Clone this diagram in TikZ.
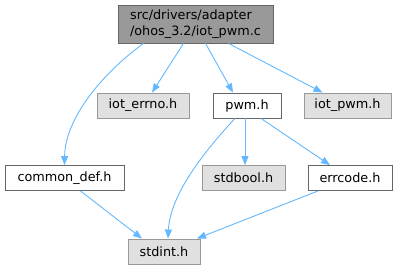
\documentclass[tikz,border=0pt]{standalone}
\usepackage{fontspec}
\setmainfont{DejaVu Sans}
\usetikzlibrary{arrows.meta}
\definecolor{edgeblue}{HTML}{63B8FF}
\definecolor{rootfill}{HTML}{999999}
\definecolor{extfill}{HTML}{E0E0E0}
\begin{document}
\begin{tikzpicture}[x=1pt,y=-1pt,
  file/.style={draw=black!60,fill=white,line width=0.9pt,inner sep=0pt,
    minimum height=25pt,font=\fontsize{12.8}{15.5}\selectfont},
  sysfile/.style={file,draw=black!40,fill=extfill},
  rootfile/.style={file,fill=rootfill,minimum height=38pt,align=left},
  dep/.style={edgeblue,line width=0.9pt,-{Triangle[length=9pt,width=7pt]}}]
  \useasboundingbox (0,0) rectangle (401,271);
  % Files
  \node[rootfile,minimum width=155pt] (root) at (195.5,24) {src/drivers/adapter\\/ohos\_3.2/iot\_pwm.c};
  \node[sysfile,minimum width=92pt] (errno) at (143,105.5) {iot\_errno.h};
  \node[file,minimum width=68pt] (pwm) at (247,105.5) {pwm.h};
  \node[sysfile,minimum width=87pt] (iotpwm) at (347.5,105.5) {iot\_pwm.h};
  \node[file,minimum width=119pt] (common) at (64.5,178) {common\_def.h};
  \node[sysfile,minimum width=83pt] (stdbool) at (243.5,178) {stdbool.h};
  \node[file,minimum width=84pt] (errcode) at (350,178) {errcode.h};
  \node[sysfile,minimum width=72pt] (stdint) at (164,251.5) {stdint.h};
  % Includes of iot_pwm.c
  \draw[dep] ([xshift=-52pt]root.south) .. controls (100,75) and (65,120) .. (common.north);
  \draw[dep] ([xshift=-12pt]root.south) -- ([xshift=9pt]errno.north);
  \draw[dep] ([xshift=10pt]root.south) -- ([xshift=-14pt]pwm.north);
  \draw[dep] ([xshift=33pt]root.south) -- ([xshift=-25pt]iotpwm.north);
  % Includes of pwm.h
  \draw[dep] ([xshift=-12pt]pwm.south) .. controls (198,158) and (170,198) .. ([xshift=4pt]stdint.north);
  \draw[dep] ([xshift=-2pt]pwm.south) -- ([xshift=1.5pt]stdbool.north);
  \draw[dep] ([xshift=14pt]pwm.south) -- ([xshift=-20pt]errcode.north);
  % Into stdint.h
  \draw[dep] ([xshift=16pt]common.south) -- ([xshift=-22pt]stdint.north);
  \draw[dep] ([xshift=-32pt]errcode.south) -- ([xshift=33pt]stdint.north);
\end{tikzpicture}
\end{document}
